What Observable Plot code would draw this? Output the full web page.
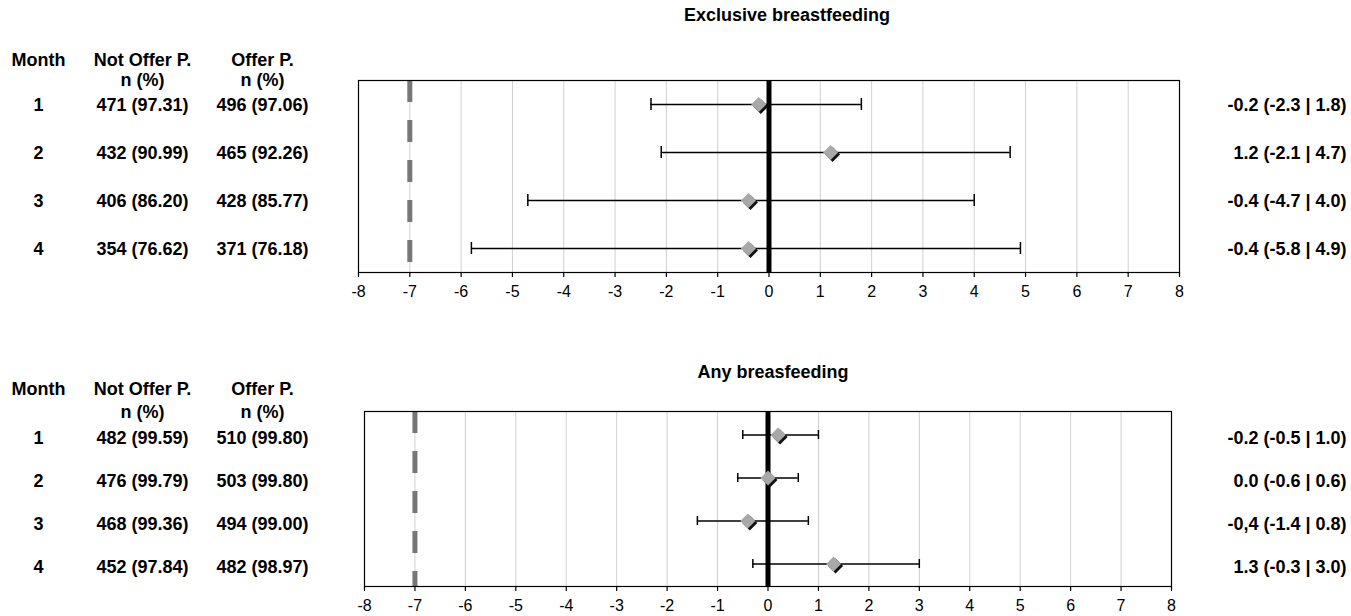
<!DOCTYPE html>
<html>
<head>
<meta charset="utf-8">
<script src="https://cdn.jsdelivr.net/npm/d3@7"></script>
<script src="https://cdn.jsdelivr.net/npm/@observablehq/plot@0.6"></script>
<style>
  html, body { margin: 0; padding: 0; background: #fff; }
  #chart svg { display: block; }
</style>
</head>
<body>
<div id="chart"></div>
<script>
// ---------- data ----------
const months = [1, 2, 3, 4];
const xTicks = [-8, -7, -6, -5, -4, -3, -2, -1, 0, 1, 2, 3, 4, 5, 6, 7, 8];
const marginLine = -7;

const exclTitle = "Exclusive breastfeeding";
const exclNotOffer = ["471 (97.31)", "432 (90.99)", "406 (86.20)", "354 (76.62)"];
const exclOffer = ["496 (97.06)", "465 (92.26)", "428 (85.77)", "371 (76.18)"];
const exclEst = [-0.2, 1.2, -0.4, -0.4];
const exclLow = [-2.3, -2.1, -4.7, -5.8];
const exclHigh = [1.8, 4.7, 4.0, 4.9];
const exclLabel = ["-0.2 (-2.3 | 1.8)", "1.2 (-2.1 | 4.7)", "-0.4 (-4.7 | 4.0)", "-0.4 (-5.8 | 4.9)"];

const anyTitle = "Any breasfeeding";
const anyNotOffer = ["482 (99.59)", "476 (99.79)", "468 (99.36)", "452 (97.84)"];
const anyOffer = ["510 (99.80)", "503 (99.80)", "494 (99.00)", "482 (98.97)"];
const anyEst = [0.2, 0.0, -0.4, 1.3];
const anyLow = [-0.5, -0.6, -1.4, -0.3];
const anyHigh = [1.0, 0.6, 0.8, 3.0];
const anyLabel = ["-0.2 (-0.5 | 1.0)", "0.0 (-0.6 | 0.6)", "-0,4 (-1.4 | 0.8)", "1.3 (-0.3 | 3.0)"];

const headers = ["Month", "Not Offer P.", "Offer P.", "n (%)"];

// ---------- drawing ----------
const W = 1351;
const FONT = "'Liberation Sans', Arial, Helvetica, sans-serif";

function panel(cfg) {
  const rows = months.map((m, i) => ({
    month: m, notOffer: cfg.notOffer[i], offer: cfg.offer[i],
    est: cfg.est[i], low: cfg.low[i], high: cfg.high[i], label: cfg.label[i]
  }));
  const ml = cfg.ml;
  const colMonth = 38 - ml, colNot = 142 - ml, colOff = 262 - ml;
  const bold = {fontWeight: "bold", fontSize: 18, fill: "black", lineAnchor: "middle", letterSpacing: "0.3px"};
  return Plot.plot({
    width: W,
    height: cfg.height,
    marginLeft: ml,
    marginRight: cfg.mr,
    marginTop: cfg.mt,
    marginBottom: cfg.mb,
    style: {fontFamily: FONT, fontSize: "16px", color: "black", background: "white", overflow: "visible"},
    x: {domain: [-8, 8], axis: null},
    y: {type: "band", domain: months, padding: 0, axis: null},
    marks: [
      Plot.ruleX(xTicks.filter(d => d > -8 && d < 8 && d !== 0), {stroke: "#cfcfcf", strokeWidth: 1}),
      Plot.ruleX([marginLine], {stroke: "#777", strokeWidth: 5, strokeDasharray: "22,18"}),
      Plot.frame({stroke: "black", strokeWidth: 1.2}),
      Plot.axisX({ticks: xTicks, tickSize: 5, tickPadding: 8, tickFormat: d => String(d), fontSize: 16, stroke: "black", strokeWidth: 1.2}),
      Plot.ruleX([0], {stroke: "black", strokeWidth: 5}),
      Plot.ruleY(rows, {y: "month", x1: "low", x2: "high", stroke: "black", strokeWidth: 1.5}),
      Plot.tickX(rows, {x: "low", y: "month", insetTop: cfg.capInset, insetBottom: cfg.capInset, stroke: "black", strokeWidth: 1.5}),
      Plot.tickX(rows, {x: "high", y: "month", insetTop: cfg.capInset, insetBottom: cfg.capInset, stroke: "black", strokeWidth: 1.5}),
      Plot.dot(rows, {x: "est", y: "month", symbol: "square", rotate: 45, r: 6, fill: "#111", dx: 2, dy: 2}),
      Plot.dot(rows, {x: "est", y: "month", symbol: "square", rotate: 45, r: 6, fill: "#a8a8a8"}),
      // title
      Plot.text([cfg.title], {text: d => d, frameAnchor: "top", lineAnchor: "middle", dx: cfg.titleDx, dy: cfg.titleDy, fontSize: 18, fontWeight: "bold", fill: "black"}),
      // table headers
      Plot.text([headers[0]], {text: d => d, frameAnchor: "top-left", dx: colMonth, dy: cfg.h1, textAnchor: "middle", ...bold}),
      Plot.text([headers[1]], {text: d => d, frameAnchor: "top-left", dx: colNot, dy: cfg.h1, textAnchor: "middle", ...bold}),
      Plot.text([headers[2]], {text: d => d, frameAnchor: "top-left", dx: colOff, dy: cfg.h1, textAnchor: "middle", ...bold}),
      Plot.text([headers[3]], {text: d => d, frameAnchor: "top-left", dx: colNot, dy: cfg.h2, textAnchor: "middle", ...bold}),
      Plot.text([headers[3]], {text: d => d, frameAnchor: "top-left", dx: colOff, dy: cfg.h2, textAnchor: "middle", ...bold}),
      // table rows
      Plot.text(rows, {y: "month", text: d => String(d.month), frameAnchor: "left", dx: colMonth, dy: cfg.rowDy, textAnchor: "middle", ...bold}),
      Plot.text(rows, {y: "month", text: "notOffer", frameAnchor: "left", dx: colNot, dy: cfg.rowDy, textAnchor: "middle", ...bold}),
      Plot.text(rows, {y: "month", text: "offer", frameAnchor: "left", dx: colOff, dy: cfg.rowDy, textAnchor: "middle", ...bold}),
      // right labels
      Plot.text(rows, {y: "month", text: "label", frameAnchor: "right", dx: cfg.labelDx, dy: cfg.rowDy, textAnchor: "end", ...bold})
    ]
  });
}

const topPanel = panel({
  title: exclTitle, notOffer: exclNotOffer, offer: exclOffer, est: exclEst,
  low: exclLow, high: exclHigh, label: exclLabel,
  height: 320, ml: 358, mr: W - 1179, mt: 80, mb: 48,
  capInset: 18, titleDx: 18, titleDy: -65, h1: -20, h2: 0, rowDy: 1,
  labelDx: 1346 - 1179
});
const bottomPanel = panel({
  title: anyTitle, notOffer: anyNotOffer, offer: anyOffer, est: anyEst,
  low: anyLow, high: anyHigh, label: anyLabel,
  height: 296, ml: 364, mr: W - 1171, mt: 91, mb: 30,
  capInset: 17, titleDx: 5, titleDy: -39, h1: -22, h2: 1, rowDy: 3,
  labelDx: 1346 - 1171
});
const el = document.getElementById("chart");
el.appendChild(topPanel);
el.appendChild(bottomPanel);
</script>
</body>
</html>
